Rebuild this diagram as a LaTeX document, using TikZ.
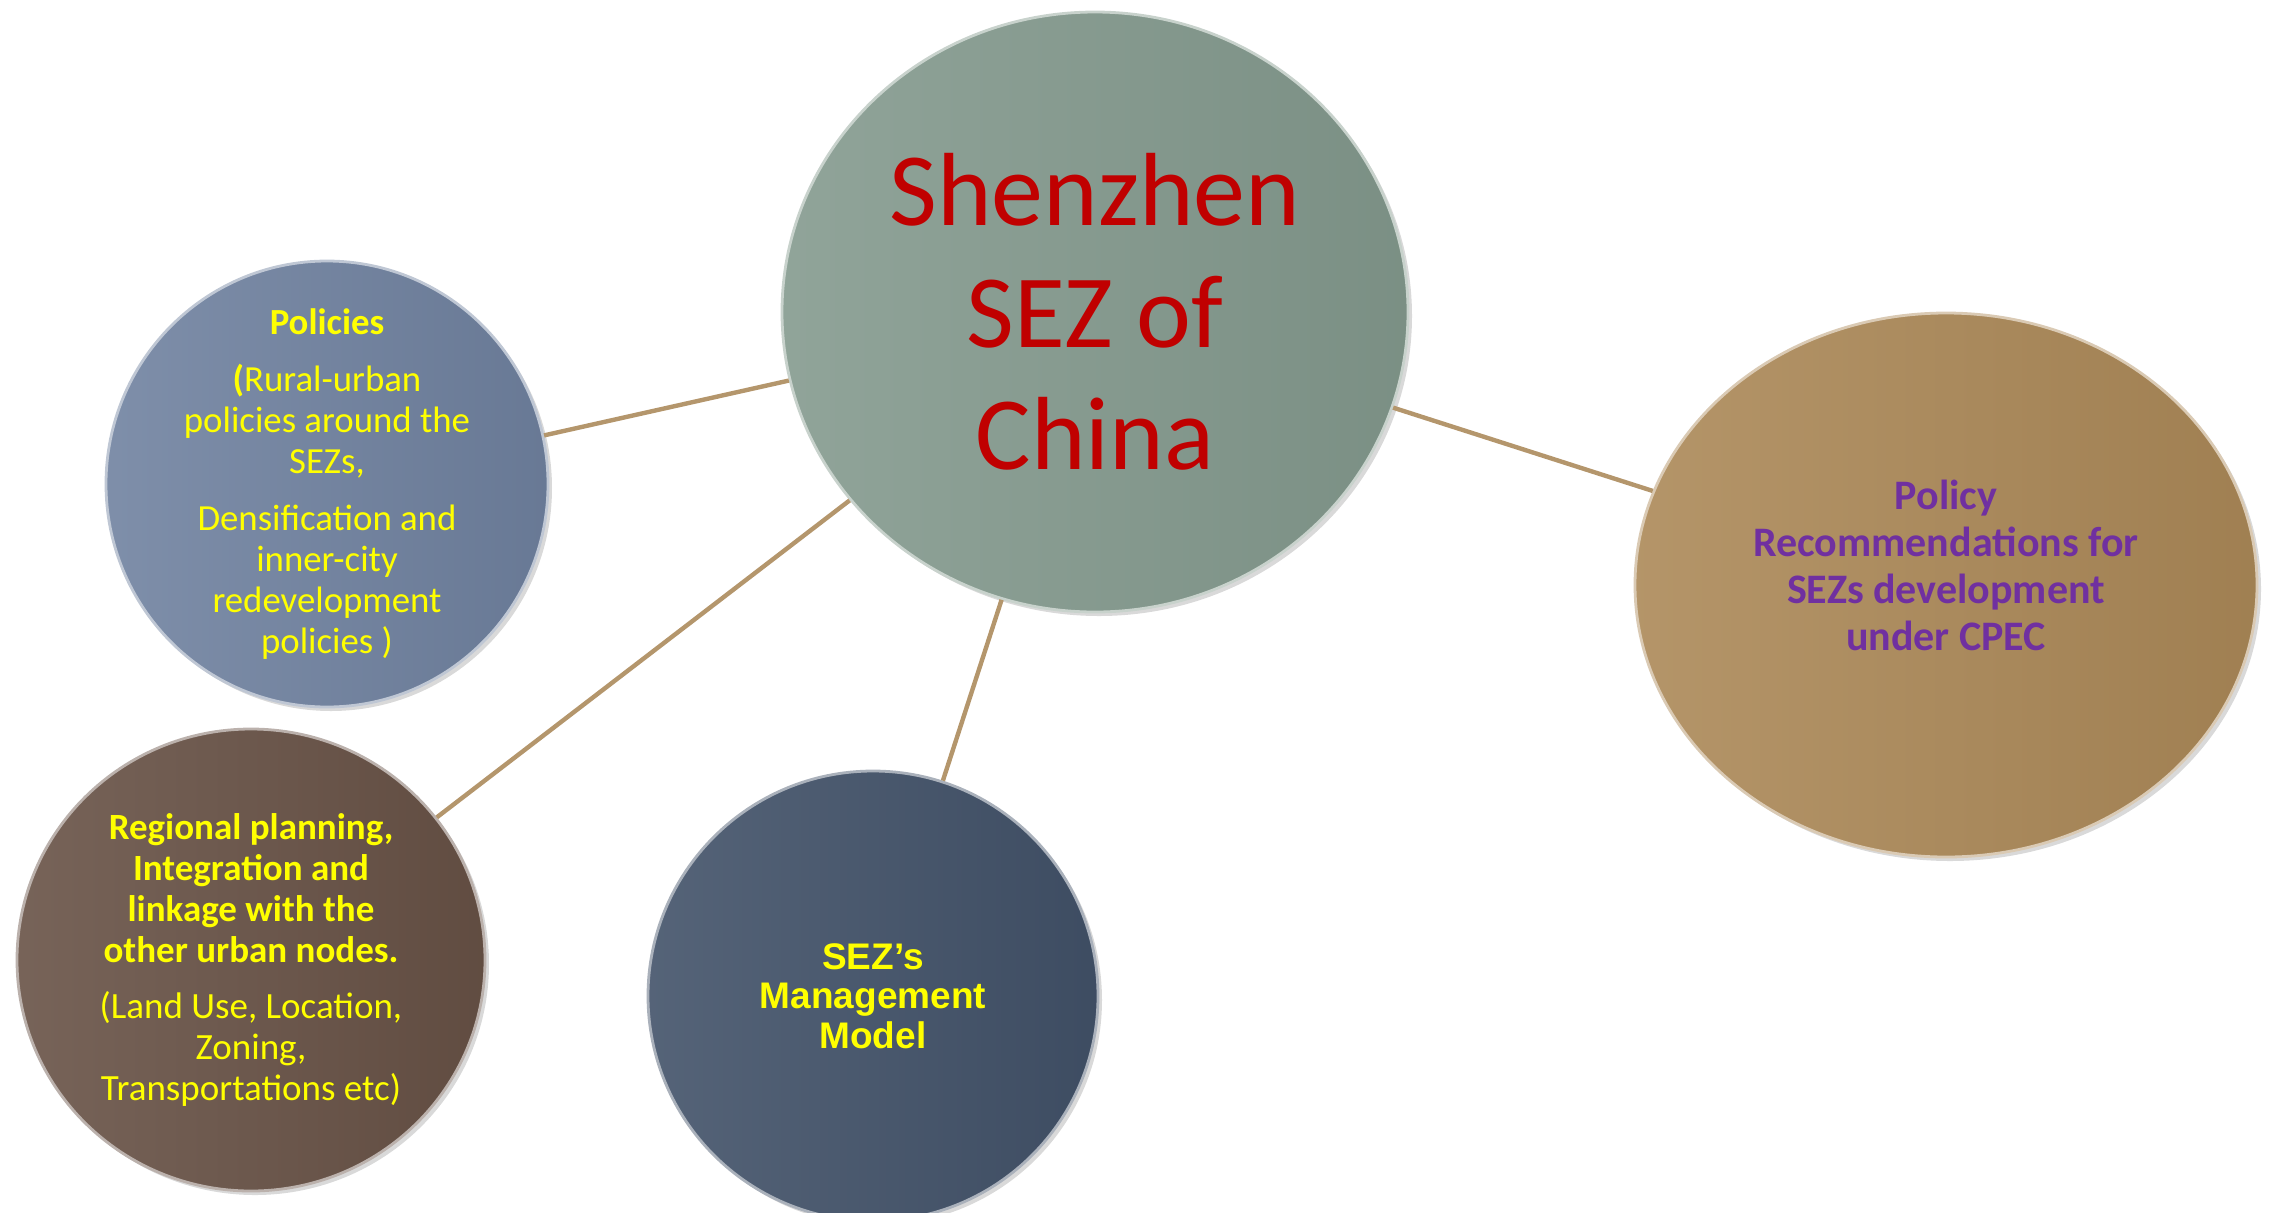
\documentclass[tikz,border=0pt]{standalone}
\usepackage{fontspec}
\setmainfont{Carlito}
\newfontfamily\arialfont{Liberation Sans}
\usetikzlibrary{shapes.geometric,shadows}

\definecolor{hubgreen}{RGB}{132,154,142}
\definecolor{policyblue}{RGB}{112,130,160}
\definecolor{regionbrown}{RGB}{104,82,70}
\definecolor{mgmtslate}{RGB}{66,82,105}
\definecolor{recgold}{RGB}{172,137,88}
\definecolor{linktan}{RGB}{180,150,108}
\definecolor{hubred}{RGB}{192,0,0}
\definecolor{textyellow}{RGB}{255,255,0}
\definecolor{recpurple}{RGB}{112,48,160}

\tikzset{
  bubble/.style={ellipse, inner sep=0pt, draw=#1!45!white, line width=1.4pt,
    left color=#1!90!white, right color=#1!93!black,
    drop shadow={opacity=0.3, shadow xshift=2pt, shadow yshift=-2pt}},
  bubbletext/.style={align=center, inner sep=0pt},
  link/.style={draw=linktan, line width=2.2pt}
}

\begin{document}
\begin{tikzpicture}[x=0.5pt,y=0.5pt,yscale=-1]
        \useasboundingbox (0,0) rectangle (2272,1212);

        % Centre bubble
        \node [bubble=hubgreen, minimum width=313pt, minimum height=300pt,
               label={[bubbletext, name=hubtext, text=hubred, font=\fontsize{52}{61}\selectfont]center:
               Shenzhen\\SEZ of\\China}] (hub) at (1095,312) {};
        % Policies bubble
        \node [bubble=policyblue, minimum width=221pt, minimum height=223pt,
               label={[bubbletext, name=policiestext, text=textyellow, font=\fontsize{18.4}{20.5}\selectfont]center:
               \textbf{Policies}\\[8pt]
               \textbf{(}Rural-urban\\policies around the\\SEZs,\\[8pt]
               Densification and\\inner-city\\redevelopment\\policies )}] (policies) at (327,484) {};
        % Regional planning bubble
        \node [bubble=regionbrown, minimum width=234pt, minimum height=231pt,
               label={[bubbletext, name=regionaltext, text=textyellow, font=\fontsize{18.5}{20.4}\selectfont]center:
               \textbf{Regional planning,}\\\textbf{Integration and}\\
               \textbf{linkage with the}\\\textbf{other urban nodes.}\\[8pt]
               (Land Use, Location,\\Zoning,\\Transportations etc)}] (regional) at (251,960) {};
        % Management model bubble
        \node [bubble=mgmtslate, minimum width=225pt, minimum height=225pt,
               label={[bubbletext, name=mgmttext, text=textyellow, font=\arialfont\bfseries\fontsize{18.5}{19.7}\selectfont]center:
               SEZ’s\\Management\\Model}] (mgmt) at (873,996) {};
        % Recommendations bubble
        \node [bubble=recgold, minimum width=311pt, minimum height=272pt,
               label={[bubbletext, name=recstext, yshift=10pt, text=recpurple, font=\bfseries\fontsize{21}{23.5}\selectfont]center:
               Policy\\Recommendations for\\SEZs development\\under CPEC}] (recs) at (1946,585) {};

        % Links
        \draw [link] (hub) -- (policies);
        \draw [link] (hub) -- (regional);
        \draw [link] (hub) -- (mgmt);
        \draw [link] (hub) -- (recs);
\end{tikzpicture}
\end{document}
